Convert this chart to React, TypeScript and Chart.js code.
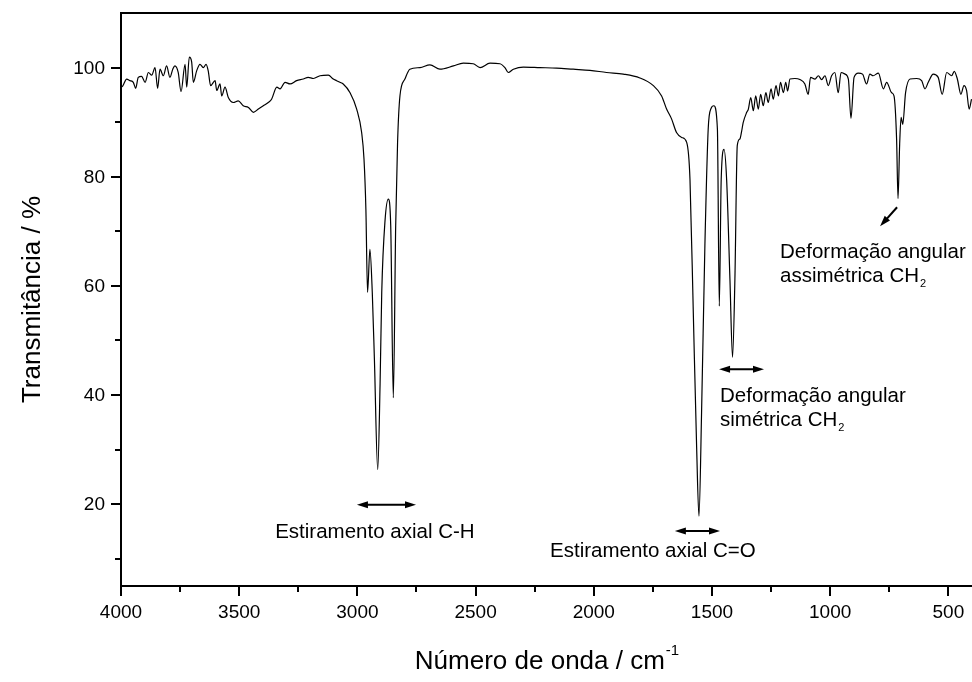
import React, { useEffect, useRef } from 'react';
import { Chart, registerables } from 'chart.js';

Chart.register(...registerables);

const wavenumbers = [
  4000, 3993, 3976, 3962, 3948, 3938, 3927, 3913, 3898, 3884, 3870, 3856, 3845, 3835, 3821, 3807, 3793, 3781, 3772, 3758,
  3746, 3729, 3722, 3711, 3701, 3694, 3680, 3666, 3652, 3640, 3631, 3621, 3602, 3595, 3581, 3574, 3560, 3546, 3525, 3504,
  3483, 3461, 3440, 3419, 3398, 3377, 3363, 3341, 3327, 3306, 3285, 3257, 3229, 3208, 3186, 3158, 3123, 3102, 3088, 3074,
  3060, 3031, 3003, 2982, 2972, 2964, 2957, 2947, 2937, 2928, 2914, 2904, 2897, 2883, 2869, 2859, 2848, 2838, 2830, 2820,
  2799, 2778, 2735, 2693, 2651, 2594, 2552, 2510, 2481, 2439, 2397, 2376, 2362, 2340, 2298, 2228, 2157, 2087, 2016, 1946,
  1875, 1805, 1748, 1713, 1692, 1671, 1650, 1628, 1607, 1593, 1579, 1565, 1555, 1544, 1530, 1516, 1504, 1492, 1477, 1469,
  1461, 1449, 1438, 1424, 1413, 1403, 1393, 1382, 1375, 1368, 1353, 1346, 1336, 1325, 1315, 1304, 1294, 1283, 1272, 1262,
  1250, 1241, 1229, 1219, 1210, 1198, 1188, 1180, 1170, 1149, 1128, 1107, 1093, 1083, 1064, 1050, 1036, 1022, 1008, 994,
  980, 966, 954, 937, 923, 912, 899, 881, 863, 846, 832, 818, 796, 775, 761, 740, 730, 719, 713, 706,
  700, 693, 681, 662, 634, 613, 599, 585, 564, 543, 526, 507, 486, 475, 462, 447, 434, 423, 412, 402,
];

const transmittance = [
  96.4, 96.6, 97.9, 97.6, 97.3, 96.2, 98.2, 98.4, 97.3, 99.1, 98.6, 100.0, 96.2, 99.7, 98.5, 100.3, 98.2, 99.7, 100.3, 99.1,
  95.6, 100.6, 96.4, 101.9, 101.0, 97.3, 99.4, 100.6, 100.0, 100.6, 99.4, 96.7, 97.6, 95.8, 97.0, 94.8, 96.4, 94.5, 93.6, 93.9,
  93.0, 92.7, 91.8, 92.4, 93.0, 93.6, 94.2, 96.4, 96.1, 97.3, 97.0, 97.6, 97.9, 98.2, 98.0, 98.5, 98.6, 97.9, 97.6, 97.3,
  97.0, 95.4, 92.4, 88.1, 83.2, 74.0, 58.8, 66.7, 58.8, 46.5, 26.3, 42.0, 58.8, 72.0, 75.9, 71.0, 39.5, 71.0, 86.3, 94.8,
  97.9, 99.7, 100.0, 100.5, 99.7, 100.3, 100.8, 100.7, 100.0, 100.8, 100.7, 100.0, 99.1, 99.7, 100.1, 100.0, 99.9, 99.7, 99.5, 99.1,
  98.8, 98.1, 96.7, 94.8, 92.4, 90.6, 88.1, 87.2, 86.3, 79.5, 55.1, 30.6, 17.8, 36.8, 67.3, 88.7, 92.5, 93.0, 88.7, 56.3,
  79.5, 85.0, 79.5, 61.2, 46.9, 61.2, 85.7, 86.9, 88.2, 89.9, 91.8, 92.4, 94.5, 92.1, 94.8, 92.4, 95.1, 93.0, 95.4, 93.6,
  96.1, 94.2, 96.7, 94.8, 97.3, 95.4, 97.3, 95.7, 97.9, 98.0, 97.8, 97.0, 95.1, 98.2, 97.9, 98.5, 97.8, 98.5, 96.7, 98.5,
  99.1, 95.4, 99.1, 98.8, 97.9, 90.7, 98.2, 99.0, 98.8, 97.0, 98.8, 98.5, 99.0, 96.1, 97.3, 95.4, 94.8, 86.9, 76.0, 86.0,
  90.9, 89.6, 95.4, 97.9, 98.0, 97.6, 96.1, 97.3, 98.8, 98.2, 95.1, 99.1, 98.5, 99.3, 97.9, 95.1, 96.7, 95.8, 92.4, 94.2,
];

const xMajorTicks = [4000, 3500, 3000, 2500, 2000, 1500, 1000, 500];
const xMinorTicks = [3750, 3250, 2750, 2250, 1750, 1250, 750];
const yMajorTicks = [20, 40, 60, 80, 100];
const yMinorTicks = [10, 30, 50, 70, 90];
const xRange = [400, 4000];
const yRange = [5, 110];

const yTitle = 'Transmitância / %';
const xTitle = 'Número de onda / cm';
const xTitleSup = '-1';

// arrows: [x1, y1, x2, y2, doubleHeaded]
const arrowDefs: [number, number, number, number, boolean][] = [
  [3002, 19.9, 2752, 19.9, true],
  [1657, 15.1, 1466, 15.1, true],
  [1470, 44.7, 1280, 44.7, true],
  [717, 74.4, 789, 70.9, false],
];

// labels: [text, subscript, x, y, align]
const labelDefs: [string, string, number, number, 'center' | 'left'][] = [
  ['Estiramento axial C-H', '', 2926, 14.8, 'center'],
  ['Estiramento axial C=O', '', 1750, 11.3, 'center'],
  ['Deformação angular', '', 1466, 39.7, 'left'],
  ['simétrica CH', '2', 1466, 35.3, 'left'],
  ['Deformação angular', '', 1212, 66.1, 'left'],
  ['assimétrica CH', '2', 1212, 61.7, 'left'],
];

const FONT = '"Liberation Sans", Arial, Helvetica, sans-serif';
const TICK_FONT = 19;
const TITLE_FONT = 26;
const NOTE_FONT = 20.5;

function arrowHead(ctx: CanvasRenderingContext2D, fx: number, fy: number, tx: number, ty: number) {
  const ang = Math.atan2(ty - fy, tx - fx);
  const len = 11;
  const hw = 3.5;
  ctx.beginPath();
  ctx.moveTo(tx, ty);
  ctx.lineTo(tx - len * Math.cos(ang) + hw * Math.sin(ang), ty - len * Math.sin(ang) - hw * Math.cos(ang));
  ctx.lineTo(tx - len * Math.cos(ang) - hw * Math.sin(ang), ty - len * Math.sin(ang) + hw * Math.cos(ang));
  ctx.closePath();
  ctx.fill();
}

const decorPlugin = {
  id: 'decor',
  afterDraw(chart: any) {
    const ctx: CanvasRenderingContext2D = chart.ctx;
    const xs = chart.scales.x;
    const ys = chart.scales.y;
    const a = chart.chartArea;
    ctx.save();
    ctx.strokeStyle = '#000';
    ctx.fillStyle = '#000';
    // frame
    ctx.lineWidth = 2;
    ctx.beginPath();
    ctx.moveTo(a.left, a.top);
    ctx.lineTo(a.right, a.top);
    ctx.moveTo(a.left, a.top - 1);
    ctx.lineTo(a.left, a.bottom + 1);
    ctx.moveTo(a.left - 1, a.bottom);
    ctx.lineTo(a.right, a.bottom);
    ctx.stroke();
    // ticks
    ctx.beginPath();
    xMajorTicks.forEach((v) => {
      const px = Math.round(xs.getPixelForValue(v));
      ctx.moveTo(px, a.bottom);
      ctx.lineTo(px, a.bottom + 10);
    });
    xMinorTicks.forEach((v) => {
      const px = Math.round(xs.getPixelForValue(v));
      ctx.moveTo(px, a.bottom);
      ctx.lineTo(px, a.bottom + 6);
    });
    yMajorTicks.forEach((v) => {
      const py = Math.round(ys.getPixelForValue(v));
      ctx.moveTo(a.left, py);
      ctx.lineTo(a.left - 10, py);
    });
    yMinorTicks.forEach((v) => {
      const py = Math.round(ys.getPixelForValue(v));
      ctx.moveTo(a.left, py);
      ctx.lineTo(a.left - 6, py);
    });
    ctx.stroke();

    // tick labels
    ctx.font = `${TICK_FONT}px ${FONT}`;
    ctx.textBaseline = 'middle';
    ctx.textAlign = 'center';
    xMajorTicks.forEach((v) => {
      ctx.fillText(String(v), xs.getPixelForValue(v), a.bottom + 27);
    });
    ctx.textAlign = 'right';
    yMajorTicks.forEach((v) => {
      ctx.fillText(String(v), a.left - 16, ys.getPixelForValue(v) + 1);
    });

    // axis titles
    ctx.textBaseline = 'alphabetic';
    ctx.font = `${TITLE_FONT}px ${FONT}`;
    const tw = ctx.measureText(xTitle).width;
    ctx.font = `15px ${FONT}`;
    const sw = ctx.measureText(xTitleSup).width;
    const cx = (a.left + a.right) / 2;
    const startX = cx - (tw + sw) / 2;
    const baseY = 669;
    ctx.font = `${TITLE_FONT}px ${FONT}`;
    ctx.textAlign = 'left';
    ctx.fillText(xTitle, startX, baseY);
    ctx.font = `15px ${FONT}`;
    ctx.fillText(xTitleSup, startX + tw + 1, baseY - 14);

    ctx.save();
    ctx.translate(40, (a.top + a.bottom) / 2);
    ctx.rotate(-Math.PI / 2);
    ctx.font = `${TITLE_FONT}px ${FONT}`;
    ctx.textAlign = 'center';
    ctx.fillText(yTitle, 0, 0);
    ctx.restore();

    // arrows
    ctx.lineWidth = 2;
    arrowDefs.forEach(([x1, y1, x2, y2, dbl]) => {
      const p1x = xs.getPixelForValue(x1);
      const p1y = ys.getPixelForValue(y1);
      const p2x = xs.getPixelForValue(x2);
      const p2y = ys.getPixelForValue(y2);
      const ang = Math.atan2(p2y - p1y, p2x - p1x);
      const s = dbl ? 6 : 0;
      ctx.beginPath();
      ctx.moveTo(p1x + s * Math.cos(ang), p1y + s * Math.sin(ang));
      ctx.lineTo(p2x - 6 * Math.cos(ang), p2y - 6 * Math.sin(ang));
      ctx.stroke();
      arrowHead(ctx, p1x, p1y, p2x, p2y);
      if (dbl) arrowHead(ctx, p2x, p2y, p1x, p1y);
    });

    // labels
    labelDefs.forEach(([text, sub, x, y, align]) => {
      ctx.font = `${NOTE_FONT}px ${FONT}`;
      ctx.textBaseline = 'middle';
      const w = ctx.measureText(text).width;
      ctx.font = `11px ${FONT}`;
      const subW = sub ? ctx.measureText(sub).width : 0;
      const px = xs.getPixelForValue(x);
      const py = ys.getPixelForValue(y);
      const left = align === 'center' ? px - (w + subW) / 2 : px;
      ctx.font = `${NOTE_FONT}px ${FONT}`;
      ctx.textAlign = 'left';
      ctx.fillText(text, left, py);
      if (sub) {
        ctx.font = `11px ${FONT}`;
        ctx.fillText(sub, left + w + 1, py + 7);
      }
    });
    ctx.restore();
  },
};

export default function App() {
  const ref = useRef<HTMLCanvasElement | null>(null);
  useEffect(() => {
    if (!ref.current) return;
    const data = wavenumbers.map((w, i) => ({ x: w, y: transmittance[i] }));
    const chart = new Chart(ref.current, {
      type: 'line',
      data: {
        datasets: [
          {
            data,
            borderColor: '#000',
            borderWidth: 1.2,
            pointRadius: 0,
            fill: false,
            cubicInterpolationMode: 'monotone',
          },
        ],
      },
      options: {
        animation: false,
        responsive: false,
        devicePixelRatio: 1,
        parsing: false,
        layout: { padding: { top: 13, right: 0, left: 0, bottom: 0 } },
        plugins: { legend: { display: false }, tooltip: { enabled: false } },
        scales: {
          x: {
            type: 'linear',
            reverse: true,
            min: xRange[0],
            max: xRange[1],
            grid: { display: false, drawTicks: false },
            border: { display: false },
            ticks: { display: false },
            afterFit: (s: any) => {
              s.height = 96;
              s.paddingLeft = 0;
              s.paddingRight = 0;
            },
          },
          y: {
            type: 'linear',
            min: yRange[0],
            max: yRange[1],
            grid: { display: false, drawTicks: false },
            border: { display: false },
            ticks: { display: false },
            afterFit: (s: any) => {
              s.width = 121;
              s.paddingTop = 0;
              s.paddingBottom = 0;
            },
          },
        },
      },
      plugins: [decorPlugin],
    });
    return () => chart.destroy();
  }, []);
  return (
    <div style={{ position: 'fixed', left: 0, top: 0, width: 972, height: 682, background: '#fff' }}>
      <canvas ref={ref} width={972} height={682} style={{ display: 'block' }} />
    </div>
  );
}
